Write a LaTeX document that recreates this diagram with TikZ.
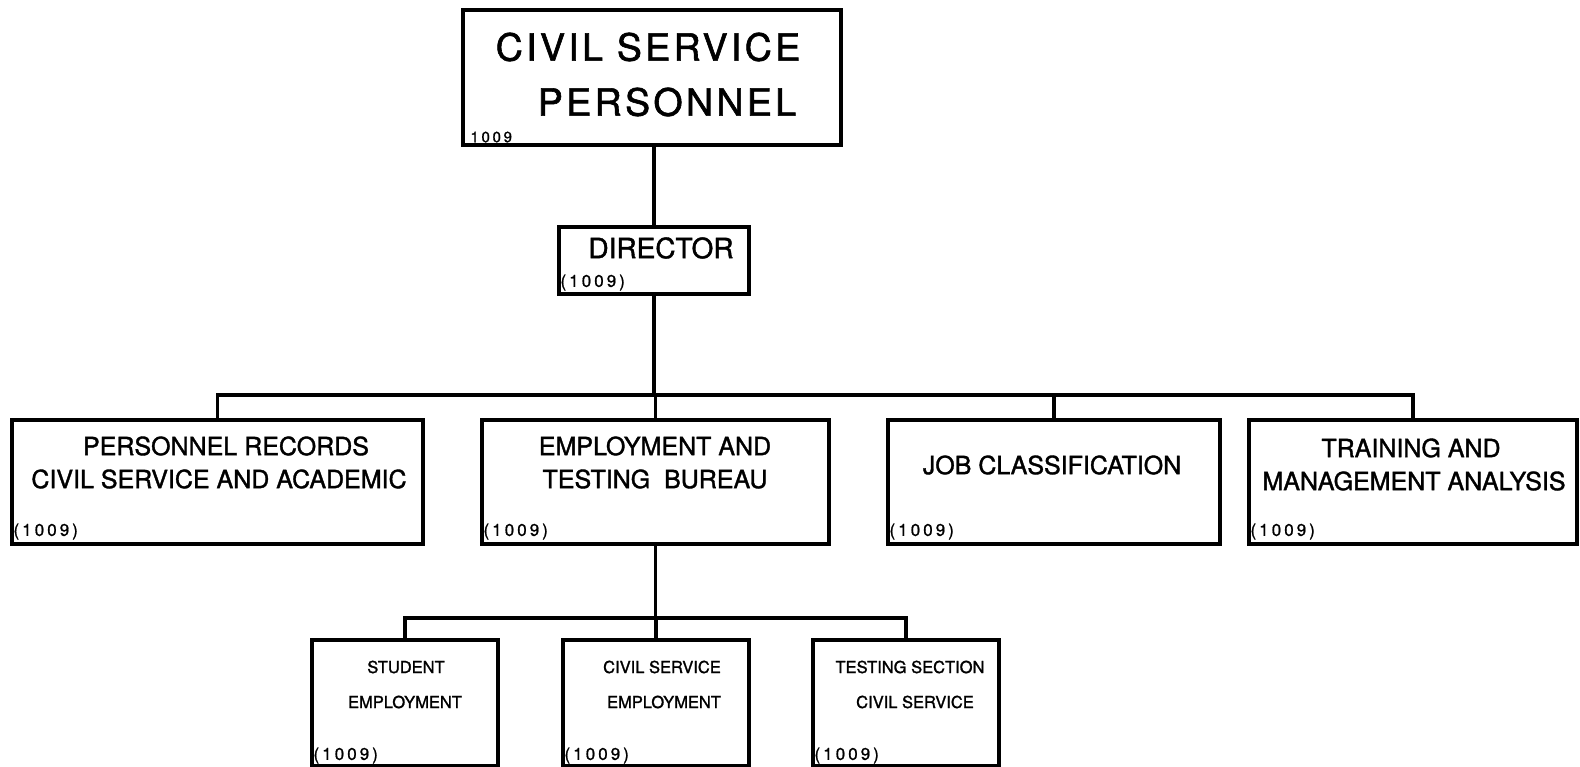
\documentclass[tikz,border=0pt]{standalone}
\usepackage{fontspec}
\setmainfont{TeX Gyre Heros}[FakeBold=1.4]
\newfontfamily\wideletters[LetterSpace=9,FakeBold=1.6]{TeX Gyre Heros}
\newfontfamily\codeletters[LetterSpace=18,FakeBold=1]{TeX Gyre Heros}
\usetikzlibrary{positioning}

\begin{document}
\begin{tikzpicture}[x=1pt, y=-1pt,
  unit/.style={draw, line width=3.4pt, inner sep=0pt},
  link/.style={line width=3.2pt},
  bigtxt/.style={font=\wideletters\fontsize{37.5}{40}\selectfont, inner sep=0pt},
  midtxt/.style={font=\fontsize{28}{30}\selectfont, inner sep=0pt},
  txt/.style={font=\fontsize{25}{28}\selectfont, inner sep=0pt},
  smalltxt/.style={font=\fontsize{16.5}{18}\selectfont, inner sep=0pt},
  code/.style={font=\codeletters\fontsize{17}{18}\selectfont, inner sep=0pt}]
  \useasboundingbox (0,0) rectangle (1580,766);
  \fill[white] (0,0) rectangle (1580,766);
  \node[unit, minimum width=378, minimum height=135] (top) at (652,77.5) {};
  \node[unit, minimum width=190, minimum height=67] (dir) at (654,260.5) {};
  \node[unit, minimum width=411, minimum height=124] (pr) at (217.5,482) {};
  \node[unit, minimum width=347, minimum height=124] (emp) at (655.5,482) {};
  \node[unit, minimum width=332, minimum height=124] (job) at (1054,482) {};
  \node[unit, minimum width=328, minimum height=124] (tr) at (1413,482) {};
  \node[unit, minimum width=186, minimum height=126] (stu) at (405,703) {};
  \node[unit, minimum width=186, minimum height=126] (cse) at (656,703) {};
  \node[unit, minimum width=186, minimum height=126] (tst) at (906,703) {};
  \node[bigtxt] (topa) at (648,47) {CIVIL SERVICE};
  \node[bigtxt] (topb) at (667,102) {PERSONNEL};
  \node[midtxt] (dira) at (661,248) {DIRECTOR};
  \node[txt] (pra) at (226,446) {PERSONNEL RECORDS};
  \node[txt] (prb) at (219,479) {CIVIL SERVICE AND ACADEMIC};
  \node[txt] (empa) at (655,446) {EMPLOYMENT AND};
  \node[txt] (empb) at (655,479) {TESTING~~BUREAU};
  \node[txt] (joba) at (1052,465) {JOB CLASSIFICATION};
  \node[txt] (tra) at (1411,448) {TRAINING AND};
  \node[txt] (trb) at (1414,481) {MANAGEMENT ANALYSIS};
  \node[smalltxt] (stua) at (406,667) {STUDENT};
  \node[smalltxt] (stub) at (405,702) {EMPLOYMENT};
  \node[smalltxt] (csea) at (662,667) {CIVIL SERVICE};
  \node[smalltxt] (cseb) at (664,702) {EMPLOYMENT};
  \node[smalltxt] (tsta) at (910,667) {TESTING SECTION};
  \node[smalltxt] (tstb) at (915,702) {CIVIL SERVICE};
  \node[code, font=\codeletters\fontsize{15}{16}\selectfont,
    above right=4pt and 9pt of top.south west] (topc) {1009};
  \node[code, above right=5pt and 3pt of dir.south west] (dirc) {(1009)};
  \node[code, above right=6pt and 3pt of pr.south west] (prc) {(1009)};
  \node[code, above right=6pt and 3pt of emp.south west] (empc) {(1009)};
  \node[code, above right=6pt and 3pt of job.south west] (jobc) {(1009)};
  \node[code, above right=6pt and 3pt of tr.south west] (trc) {(1009)};
  \node[code, above right=4pt and 3pt of stu.south west] (stuc) {(1009)};
  \node[code, above right=4pt and 3pt of cse.south west] (csec) {(1009)};
  \node[code, above right=4pt and 3pt of tst.south west] (tstc) {(1009)};
  \coordinate (bus) at (655,395);
  \coordinate (subbus) at (656,618);
  \draw[link] (top.south -| dir.north) -- (dir.north);
  \draw[link] (dir.south) -- (dir.south |- bus);
  \draw[link] (pr.north) |- (bus) -| (tr.north);
  \draw[link] (emp.north) -- (emp.north |- bus);
  \draw[link] (job.north) -- (job.north |- bus);
  \draw[link] (emp.south) -- (emp.south |- subbus);
  \draw[link] (stu.north) |- (subbus) -| (tst.north);
  \draw[link] (cse.north) -- (cse.north |- subbus);
\end{tikzpicture}
\end{document}
